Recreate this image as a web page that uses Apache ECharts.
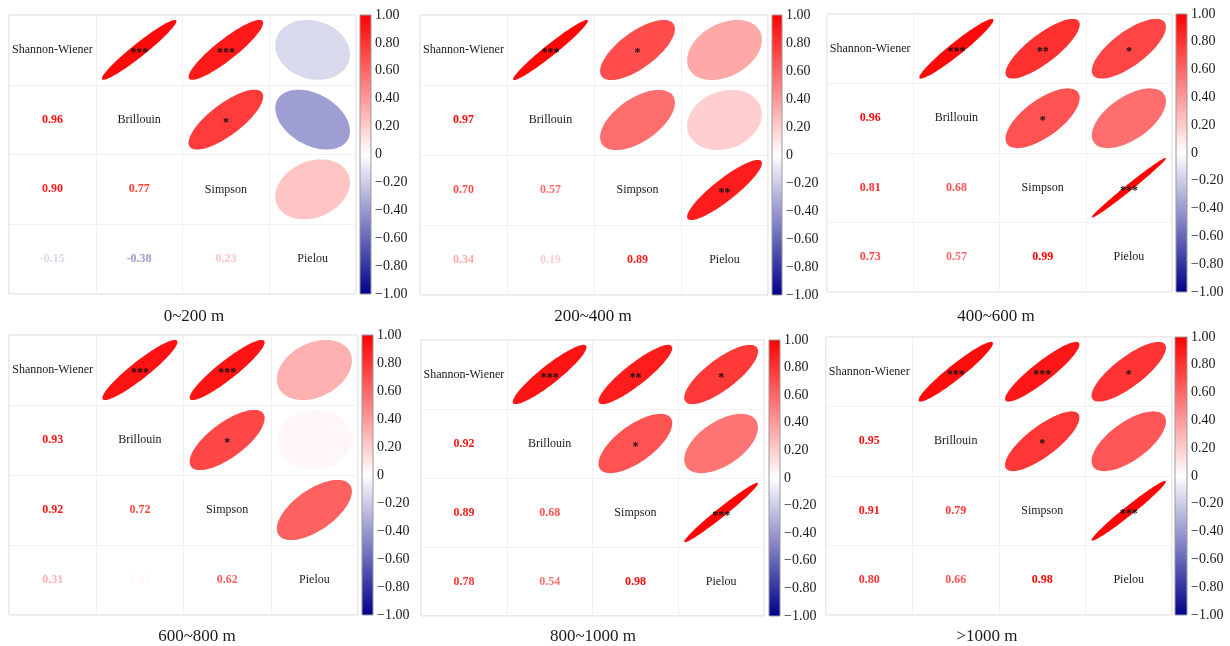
<!DOCTYPE html>
<html>
<head>
<meta charset="utf-8">
<script src="https://cdn.jsdelivr.net/npm/echarts@6/dist/echarts.min.js"></script>
<style>
  html, body { margin: 0; padding: 0; background: #fff; }
  #main { width: 1230px; height: 646px; }
</style>
</head>
<body>
<div id="main"></div>
<script>
var indices = ['Shannon-Wiener', 'Brillouin', 'Simpson', 'Pielou']
var panelTitles = ['0~200 m', '200~400 m', '400~600 m', '600~800 m', '800~1000 m', '>1000 m']

// pair order: SW-Br, SW-Si, SW-Pi, Br-Si, Br-Pi, Si-Pi
var corr0_200 = [0.96, 0.90, -0.15, 0.77, -0.38, 0.23]
var corr200_400 = [0.97, 0.70, 0.34, 0.57, 0.19, 0.89]
var corr400_600 = [0.96, 0.81, 0.73, 0.68, 0.57, 0.99]
var corr600_800 = [0.93, 0.92, 0.31, 0.72, 0.03, 0.62]
var corr800_1000 = [0.92, 0.89, 0.78, 0.68, 0.54, 0.98]
var corr1000 = [0.95, 0.91, 0.80, 0.79, 0.66, 0.98]

// significance marks, same pair order
var sig0_200 = ['***', '***', '', '*', '', '']
var sig200_400 = ['***', '*', '', '', '', '**']
var sig400_600 = ['***', '**', '*', '*', '', '***']
var sig600_800 = ['***', '***', '', '*', '', '']
var sig800_1000 = ['***', '**', '*', '*', '', '***']
var sig1000 = ['***', '***', '*', '*', '', '***']

var corrs = [corr0_200, corr200_400, corr400_600, corr600_800, corr800_1000, corr1000]
var sigs = [sig0_200, sig200_400, sig400_600, sig600_800, sig800_1000, sig1000]
var pairs = [[0, 1], [0, 2], [0, 3], [1, 2], [1, 3], [2, 3]]

// layout: matrix [left, top, right, bottom], colorbar [left, right], title [x, y]
var layout = [
  { m: [9, 15, 356, 294], cb: [360, 371], t: [189, 303] },
  { m: [420, 15, 768, 295], cb: [772, 782], t: [588, 303] },
  { m: [827, 14, 1172, 292], cb: [1176, 1187], t: [991, 303] },
  { m: [9, 335, 358, 615], cb: [362, 373], t: [192, 623] },
  { m: [421, 340, 764, 616], cb: [769, 780], t: [588, 623] },
  { m: [826, 337, 1172, 615], cb: [1175, 1187], t: [982, 623] }
]

var serif = '"Liberation Serif", "Times New Roman", serif'
var chart = echarts.init(document.getElementById('main'))

function fmtTick(v) {
  if (Math.abs(v) < 1e-9) return '0'
  return v.toFixed(2).replace('-', '\u2212')
}

function buildItems(p) {
  var list = []
  for (var i = 0; i < 4; i++) list.push({ col: i, row: i, r: 0, sig: '' })
  pairs.forEach(function (pr, k) {
    var r = corrs[p][k]
    // upper triangle: ellipse
    list.push({ col: pr[1], row: pr[0], r: r, sig: sigs[p][k] })
    // lower triangle: number
    list.push({ col: pr[0], row: pr[1], r: r, sig: '' })
  })
  return list
}

function makeRender(items) {
  return function (params, api) {
    var it = items[params.dataIndex]
    var c = api.coord([it.col, it.row])
    var s = api.size([1, 1])
    var color = api.visual('color')
    if (it.col === it.row) {
      return {
        type: 'text',
        style: { text: indices[it.col], x: c[0], y: c[1], align: 'center', verticalAlign: 'middle',
          font: '12px ' + serif, fill: '#1a1a1a' }
      }
    }
    if (it.row > it.col) {
      return {
        type: 'text',
        style: { text: it.r.toFixed(2), x: c[0], y: c[1], align: 'center', verticalAlign: 'middle',
          font: 'bold 12px ' + serif, fill: color }
      }
    }
    var d = Math.acos(it.r)
    var pts = []
    for (var k = 0; k < 90; k++) {
      var t = k / 90 * 2 * Math.PI
      pts.push([c[0] + Math.cos(t + d / 2) / 2 * s[0] * 0.86,
        c[1] - Math.cos(t - d / 2) / 2 * s[1] * 0.86])
    }
    return {
      type: 'group',
      children: [
        { type: 'polygon', shape: { points: pts }, style: { fill: color } },
        { type: 'text', style: { text: it.sig, x: c[0], y: c[1] + 3, align: 'center', verticalAlign: 'middle',
          font: 'bold 12px ' + serif, fill: '#111' } }
      ]
    }
  }
}

var grids = [], xAxes = [], yAxes = [], series = [], titles = []
layout.forEach(function (L, p) {
  var m = L.m
  grids.push({ left: m[0], top: m[1], width: m[2] - m[0], height: m[3] - m[1], show: true,
    backgroundColor: '#fff', borderColor: '#d6d6d6', borderWidth: 1 })
  grids.push({ left: L.cb[0], top: m[1], width: L.cb[1] - L.cb[0], height: m[3] - m[1], show: true,
    borderColor: '#999', borderWidth: 1,
    backgroundColor: new echarts.graphic.LinearGradient(0, 0, 0, 1, [
      { offset: 0, color: '#FF0000' },
      { offset: 0.5, color: '#FFFFFF' },
      { offset: 1, color: '#00008B' }
    ]) })
  xAxes.push({ gridIndex: 2 * p, type: 'category', data: [0, 1, 2, 3],
    axisLine: { show: false }, axisTick: { show: false }, axisLabel: { show: false },
    splitLine: { show: true, lineStyle: { color: '#f1f1f1' } } })
  yAxes.push({ gridIndex: 2 * p, type: 'category', data: [0, 1, 2, 3], inverse: true,
    axisLine: { show: false }, axisTick: { show: false }, axisLabel: { show: false },
    splitLine: { show: true, lineStyle: { color: '#f1f1f1' } } })
  xAxes.push({ gridIndex: 2 * p + 1, type: 'value', show: false, min: 0, max: 1 })
  yAxes.push({ gridIndex: 2 * p + 1, type: 'value', position: 'right', min: -1, max: 1, interval: 0.2,
    axisLine: { show: false }, axisTick: { show: false }, splitLine: { show: false },
    axisLabel: { margin: 4, fontSize: 14, fontFamily: serif, color: '#1a1a1a', formatter: fmtTick } })
  var items = buildItems(p)
  series.push({
    type: 'custom',
    xAxisIndex: 2 * p,
    yAxisIndex: 2 * p,
    encode: { x: 0, y: 1 },
    data: items.map(function (it) { return [it.col, it.row, it.r] }),
    renderItem: makeRender(items),
    silent: true
  })
  titles.push({ text: panelTitles[p], left: L.t[0], top: L.t[1], textAlign: 'center',
    textStyle: { fontFamily: serif, fontSize: 17, fontWeight: 'normal', color: '#1a1a1a' } })
})

chart.setOption({
  backgroundColor: '#fff',
  animation: false,
  title: titles,
  grid: grids,
  xAxis: xAxes,
  yAxis: yAxes,
  visualMap: {
    type: 'continuous',
    show: false,
    min: -1,
    max: 1,
    dimension: 2,
    seriesIndex: [0, 1, 2, 3, 4, 5],
    inRange: { color: ['#00008B', '#FFFFFF', '#FF0000'] }
  },
  series: series
})
</script>
</body>
</html>
